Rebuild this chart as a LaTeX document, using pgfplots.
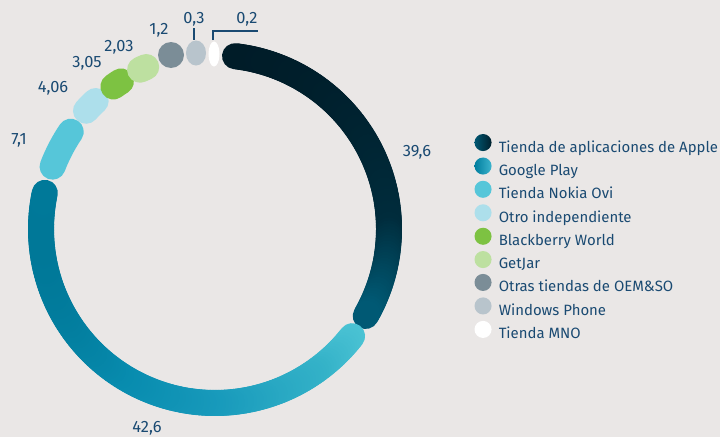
\documentclass[border=0pt]{standalone}
\usepackage{pgfplots}
\pgfplotsset{compat=1.18}
\usepackage{pgfplotstable}
\usepackage{fontspec}
\setmainfont{Fira Sans}
\newcommand\lf{\fontsize{11.2pt}{12pt}\selectfont}
\newcommand\vf{\fontsize{12.3pt}{13pt}\selectfont}
\definecolor{bg}{RGB}{234,231,230}
\definecolor{txt}{RGB}{26,74,114}
\definecolor{cApple}{RGB}{0,32,45}
\definecolor{cAppleL}{RGB}{0,88,115}
\definecolor{cGoogleD}{RGB}{0,125,158}
\definecolor{cGoogleL}{RGB}{60,180,205}
\definecolor{cNokia}{RGB}{86,198,217}
\definecolor{cOtro}{RGB}{173,223,235}
\definecolor{cBB}{RGB}{125,194,66}
\definecolor{cGetJar}{RGB}{189,224,160}
\definecolor{cOEM}{RGB}{123,141,151}
\definecolor{cWin}{RGB}{184,196,204}
\definecolor{cMNO}{RGB}{255,255,255}
\pgfplotsset{
  colormap={applemap}{rgb255(0)=(0,90,117) rgb255(87)=(0,44,60) rgb255(260)=(0,28,40)},
  colormap={googlemap}{rgb255(0)=(0,120,152) rgb255(80)=(8,140,175) rgb255(175)=(25,155,188) rgb255(280)=(52,178,200) rgb255(320)=(75,195,212)},
}
% value labels: position (axis units = px, origin at ring centre) and text
\pgfplotstableread{
x y lab
202 77 {39,6}
-68 -199 {42,6}
-196 89 {7,1}
-162 141 {4,06}
-128 166 {3,05}
-96 182 {2,03}
-56 199 {1,2}
-21 210 {0,3}
32 210 {0,2}
}\labeltab
\begin{document}
\begin{tikzpicture}
\fill[bg] (0,0) rectangle (540pt,327.75pt);
\begin{axis}[
  at={(0,0)}, anchor=south west,
  x=0.75pt, y=0.75pt,
  xmin=-215, xmax=505, ymin=-208, ymax=229,
  hide axis, clip=false,
  point meta rel=per plot,
  legend style={at={(axis cs:259.5,95)}, anchor=north west, draw=none, fill=none,
    inner sep=0pt, outer sep=0pt, font=\lf, text=txt, row sep=2.6pt, column sep=5.4pt,
    nodes={inner sep=0pt}},
  legend cell align=left,
]
% Apple
\addplot[forget plot, mesh, colormap name=applemap, point meta=y, line width=19.5pt, line cap=round,
  domain=83.4:-30, samples=120] ({174*cos(x)},{174*sin(x)});
% Google Play
\addplot[forget plot, mesh, colormap name=googlemap, point meta=x, line width=19.5pt, line cap=round,
  domain=-38:-192, samples=150] ({174*cos(x)},{174*sin(x)});
% Nokia Ovi
\addplot[forget plot, cNokia, line width=19.5pt, line cap=round, domain=159:146, samples=20] ({174*cos(x)},{174*sin(x)});
% Otro independiente
\addplot[forget plot, cOtro, line width=19.5pt, line cap=round, domain=137.5:133, samples=10] ({175*cos(x)},{175*sin(x)});
% Blackberry
\addplot[forget plot, cBB, line width=19.5pt, line cap=round, domain=125.5:122.5, samples=10] ({175*cos(x)},{175*sin(x)});
% GetJar
\addplot[forget plot, cGetJar, line width=19.5pt, line cap=round, domain=115.2:113, samples=10] ({176*cos(x)},{176*sin(x)});
% OEM
\addplot[forget plot, cOEM, only marks, mark=*, mark size=9.75pt, mark options={draw opacity=0, fill=cOEM}] coordinates {(-44,174)};
% Windows Phone
\addplot[forget plot, cWin, only marks, mark=*, mark size=9.4pt, mark options={draw opacity=0, fill=cWin, xscale=0.8}] coordinates {(-19,176)};
% MNO
\addplot[forget plot, white, only marks, mark=*, mark size=9.4pt, mark options={draw opacity=0, fill=white, xscale=0.44}] coordinates {(-1,175)};
% leader lines
\addplot[forget plot, txt, line width=0.9pt] coordinates {(-21,201) (-21,189)};
\addplot[forget plot, txt, line width=0.9pt] coordinates {(-2,189) (-2,198) (43,198)};
% labels
\addplot[forget plot, draw=none, mark=none, nodes near coords, point meta=explicit symbolic,
  nodes near coords style={anchor=center, font=\vf, text=txt, inner sep=0pt}]
  table[x=x, y=y, meta=lab] {\labeltab};
% legend
\addlegendimage{legend image code/.code={\path[draw=none, left color=cAppleL, right color=cApple] (0pt,0.35em) circle (6.4pt);}}
\addlegendentry{Tienda de aplicaciones de Apple}
\addlegendimage{legend image code/.code={\path[draw=none, left color=cGoogleD, right color=cGoogleL] (0pt,0.35em) circle (6.4pt);}}
\addlegendentry{Google Play}
\addlegendimage{legend image code/.code={\path[draw=none, fill=cNokia] (0pt,0.35em) circle (6.4pt);}}
\addlegendentry{Tienda Nokia Ovi}
\addlegendimage{legend image code/.code={\path[draw=none, fill=cOtro] (0pt,0.35em) circle (6.4pt);}}
\addlegendentry{Otro independiente}
\addlegendimage{legend image code/.code={\path[draw=none, fill=cBB] (0pt,0.35em) circle (6.4pt);}}
\addlegendentry{Blackberry World}
\addlegendimage{legend image code/.code={\path[draw=none, fill=cGetJar] (0pt,0.35em) circle (6.4pt);}}
\addlegendentry{GetJar}
\addlegendimage{legend image code/.code={\path[draw=none, fill=cOEM] (0pt,0.35em) circle (6.4pt);}}
\addlegendentry{Otras tiendas de OEM\&SO}
\addlegendimage{legend image code/.code={\path[draw=none, fill=cWin] (0pt,0.35em) circle (6.4pt);}}
\addlegendentry{Windows Phone}
\addlegendimage{legend image code/.code={\path[draw=none, fill=cMNO] (0pt,0.35em) circle (6.4pt);}}
\addlegendentry{Tienda MNO}
\end{axis}
\pgfresetboundingbox
\useasboundingbox (0,0) rectangle (540pt,327.75pt);
\end{tikzpicture}
\end{document}
